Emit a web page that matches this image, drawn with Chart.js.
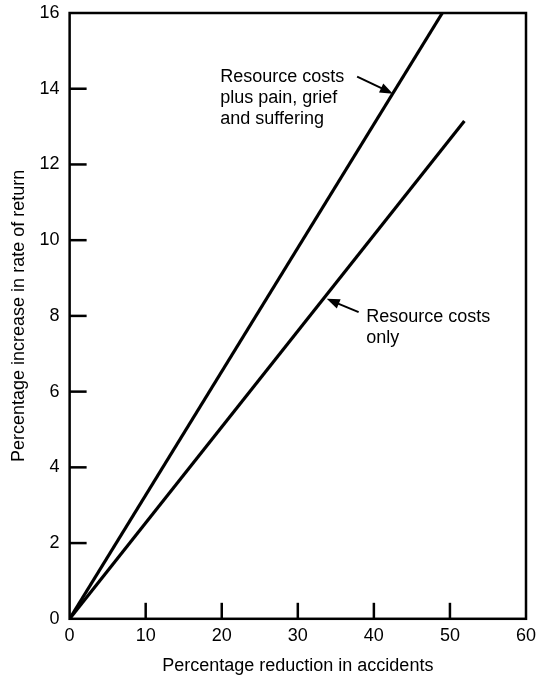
<!DOCTYPE html>
<html>
<head>
<meta charset="utf-8">
<script src="https://cdn.jsdelivr.net/npm/chart.js@4"></script>
<style>
  html, body { margin: 0; padding: 0; background: #fff; }
  #wrap { width: 538px; height: 679px; }
</style>
</head>
<body>
<div id="wrap"><canvas id="grafico"></canvas></div>
<script>
// Datos
const xTicks = [0, 10, 20, 30, 40, 50, 60];
const yTicks = [0, 2, 4, 6, 8, 10, 12, 14, 16];
const accidentReduction = [0, 49];         // linea 1: costes + dolor
const returnWithPain = [0, 16];
const accidentReduction2 = [0, 51.9];      // linea 2: solo costes
const returnResourceOnly = [0, 13.15];
const labelPain = ['Resource costs', 'plus pain, grief', 'and suffering'];
const labelOnly = ['Resource costs', 'only'];

const fuente = '"Liberation Sans", Arial, Helvetica, sans-serif';

function puntos(xs, ys) {
  return xs.map((x, i) => ({ x: x, y: ys[i] }));
}

// Marco, marcas hacia dentro y anotaciones con flechas
const extras = {
  id: 'extras',
  afterDraw(chart) {
    const ctx = chart.ctx;
    const a = chart.chartArea;
    const sx = chart.scales.x;
    const sy = chart.scales.y;
    ctx.save();
    ctx.strokeStyle = '#000';
    ctx.lineWidth = 2.5;
    ctx.strokeRect(a.left, a.top, a.right - a.left, a.bottom - a.top);

    xTicks.slice(1, -1).forEach(v => {
      const px = sx.getPixelForValue(v);
      ctx.beginPath();
      ctx.moveTo(px, a.bottom);
      ctx.lineTo(px, a.bottom - 16);
      ctx.stroke();
    });
    yTicks.slice(1, -1).forEach(v => {
      const py = sy.getPixelForValue(v);
      ctx.beginPath();
      ctx.moveTo(a.left, py);
      ctx.lineTo(a.left + 17, py);
      ctx.stroke();
    });

    ctx.fillStyle = '#000';
    ctx.font = '18px ' + fuente;
    ctx.textBaseline = 'middle';
    ctx.textAlign = 'left';
    labelPain.forEach((t, i) => ctx.fillText(t, sx.getPixelForValue(19.8), sy.getPixelForValue(14.32) + i * 21));
    labelOnly.forEach((t, i) => ctx.fillText(t, sx.getPixelForValue(39.0), sy.getPixelForValue(7.97) + i * 21));

    flecha(ctx, sx.getPixelForValue(37.8), sy.getPixelForValue(14.32), sx.getPixelForValue(42.5), sy.getPixelForValue(13.87));
    flecha(ctx, sx.getPixelForValue(38.0), sy.getPixelForValue(8.1), sx.getPixelForValue(33.8), sy.getPixelForValue(8.45));
    ctx.restore();
  }
};

function flecha(ctx, x1, y1, x2, y2) {
  const ang = Math.atan2(y2 - y1, x2 - x1);
  const largo = 13, ancho = 5;
  ctx.lineWidth = 2;
  ctx.beginPath();
  ctx.moveTo(x1, y1);
  ctx.lineTo(x2 - Math.cos(ang) * largo * 0.8, y2 - Math.sin(ang) * largo * 0.8);
  ctx.stroke();
  ctx.beginPath();
  ctx.moveTo(x2, y2);
  ctx.lineTo(x2 - Math.cos(ang) * largo - Math.sin(ang) * ancho, y2 - Math.sin(ang) * largo + Math.cos(ang) * ancho);
  ctx.lineTo(x2 - Math.cos(ang) * largo + Math.sin(ang) * ancho, y2 - Math.sin(ang) * largo - Math.cos(ang) * ancho);
  ctx.closePath();
  ctx.fill();
}

new Chart(document.getElementById('grafico'), {
  type: 'scatter',
  data: {
    datasets: [{
      label: 'Resource costs plus pain, grief and suffering',
      data: puntos(accidentReduction, returnWithPain),
      showLine: true,
      borderColor: '#000',
      borderWidth: 3.2,
      pointRadius: 0
    }, {
      label: 'Resource costs only',
      data: puntos(accidentReduction2, returnResourceOnly),
      showLine: true,
      borderColor: '#000',
      borderWidth: 3.2,
      pointRadius: 0
    }]
  },
  options: {
    responsive: true,
    maintainAspectRatio: false,
    animation: false,
    layout: { padding: { top: 13, right: 12, left: 8, bottom: 0 } },
    plugins: { legend: { display: false }, tooltip: { enabled: false } },
    scales: {
      x: {
        type: 'linear',
        min: 0, max: 60,
        afterBuildTicks: s => { s.ticks = xTicks.map(v => ({ value: v })); },
        grid: { display: false },
        border: { display: false },
        ticks: { color: '#000', font: { size: 18, family: fuente }, padding: -2 },
        title: {
          display: true,
          text: 'Percentage reduction in accidents',
          color: '#000',
          font: { size: 18, family: fuente },
          padding: { top: 11, bottom: 2 }
        }
      },
      y: {
        type: 'linear',
        min: 0, max: 16,
        afterBuildTicks: s => { s.ticks = yTicks.map(v => ({ value: v })); },
        grid: { display: false },
        border: { display: false },
        ticks: { color: '#000', font: { size: 18, family: fuente }, padding: 2 },
        title: {
          display: true,
          text: 'Percentage increase in rate of return',
          color: '#000',
          font: { size: 18, family: fuente },
          padding: { top: 0, bottom: 8 }
        }
      }
    }
  },
  plugins: [extras]
});
</script>
</body>
</html>
